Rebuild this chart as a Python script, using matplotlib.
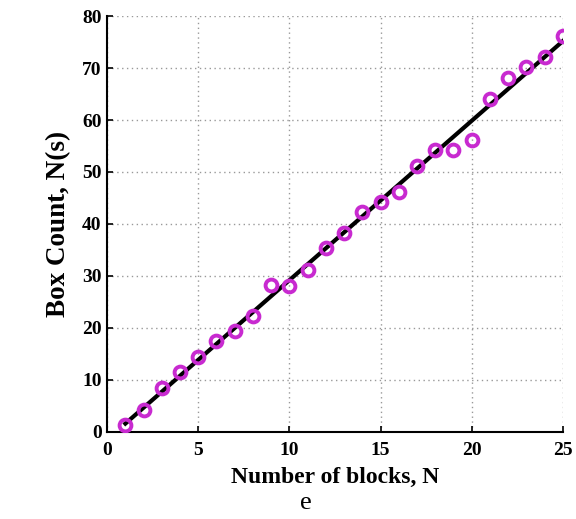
import numpy as np
import matplotlib
matplotlib.use("Agg")
import matplotlib.pyplot as plt

blocks = [1, 2, 3, 4, 5, 6, 7, 8, 9, 10, 11, 12, 13, 14, 15, 16, 17, 18, 19, 20, 21, 22, 23, 24, 25]
box_count = [1.3, 4.2, 8.5, 11.5, 14.4, 17.5, 19.4, 22.3, 28.3, 28.1, 31.2, 35.4, 38.3, 42.3, 44.2,
             46.2, 51.2, 54.2, 54.2, 56.2, 64.0, 68.0, 70.2, 72.1, 76.2]
xticks = [0, 5, 10, 15, 20, 25]
yticks = [0, 10, 20, 30, 40, 50, 60, 70, 80]

plt.rcParams['font.family'] = ['Liberation Serif', 'DejaVu Serif']

fig = plt.figure(figsize=(5.76, 5.19), dpi=100)
ax = fig.add_axes([0.186, 0.168, 0.791, 0.801])

x = np.array(blocks, dtype=float)
y = np.array(box_count)
coef = np.polyfit(x, y, 1)
xl = np.array([blocks[0], blocks[-1]], dtype=float)
ax.plot(xl, np.polyval(coef, xl), color='black', lw=3, zorder=3)
ax.plot(x, y, 'o', mfc='none', mec='#c82ad0', mew=2.8, ms=8.5, zorder=4)

ax.set_xlim(0, 25)
ax.set_ylim(0, 80)
ax.set_xticks(xticks)
ax.set_yticks(yticks)
ax.grid(True, linestyle=(0, (1, 2.5)), color='#999999', lw=1)
for s in ['top', 'right']:
    ax.spines[s].set_visible(False)
for s in ['left', 'bottom']:
    ax.spines[s].set_linewidth(1.5)
ax.tick_params(direction='in', length=4, width=1.2, labelsize=14)
ax.tick_params(axis='x', pad=7)
ax.tick_params(axis='y', pad=4)
for lab in ax.get_xticklabels() + ax.get_yticklabels():
    lab.set_fontweight('bold')
ax.set_xlabel('Number of blocks, N', fontsize=17, fontweight='bold', labelpad=6)
ax.set_ylabel('Box Count, N(s)', fontsize=19.5, fontweight='bold', labelpad=8)
fig.text(0.531, 0.03, 'e', fontsize=19, ha='center', va='center')

fig.savefig('out.png', dpi=100)
